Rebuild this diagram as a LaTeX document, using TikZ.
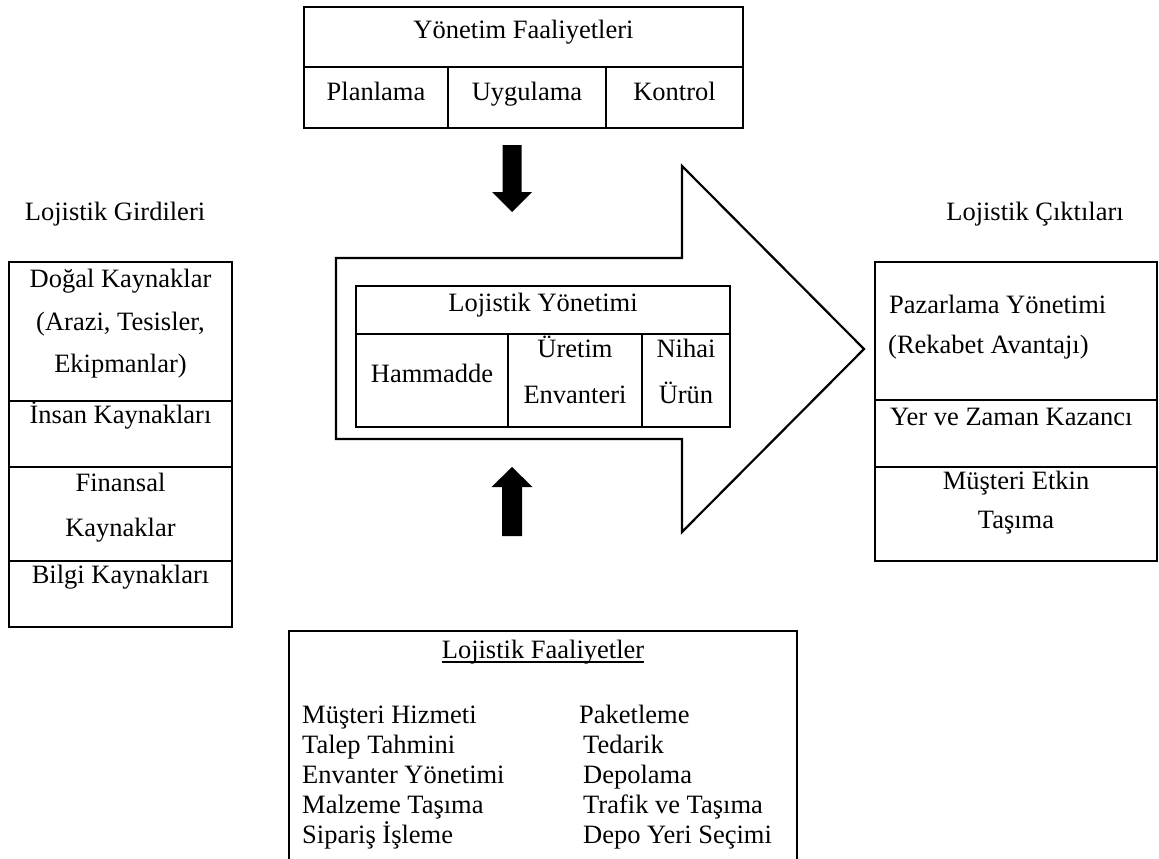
\documentclass[tikz,border=0pt]{standalone}
\usepackage{fontspec}
\setmainfont{Liberation Serif}
\begin{document}
\begin{tikzpicture}[x=1pt,y=-1pt,
  cell/.style={draw,line width=2.2pt,inner sep=0pt,outer sep=0pt,anchor=north west},
  outline/.style={draw,line width=2.2pt,line join=miter},
  solidarrow/.style={fill=black,draw=none},
  txt/.style={anchor=base,inner sep=0pt,font=\fontsize{26.5}{31.8}\selectfont},
  ltxt/.style={txt,anchor=base west}]
\useasboundingbox (0,0) rectangle (1159,859);

% ---- Yonetim Faaliyetleri (top table)
\node[cell,minimum width=439,minimum height=60] (yhead) at (304,7) {};
\node[cell,minimum width=144,minimum height=61] (yplan) at (304,67) {};
\node[cell,minimum width=158,minimum height=61] (yuyg) at (448,67) {};
\node[cell,minimum width=137,minimum height=61] (ykon) at (606,67) {};
\node[txt] (tyhead) at (523.5,39) {Yönetim Faaliyetleri};
\node[txt] (typlan) at (376,100) {Planlama};
\node[txt] (tyuyg) at (527,100) {Uygulama};
\node[txt] (tykon) at (674.5,100) {Kontrol};

% ---- small filled arrows
\fill[solidarrow] (502.5,145) -- (521.5,145) -- (521.5,192) -- (532,192) -- (512,212)
  -- (492,192) -- (502.5,192) -- cycle;
\fill[solidarrow] (512,467) -- (532.5,487) -- (522,487) -- (522,536) -- (502,536)
  -- (502,487) -- (491.5,487) -- cycle;

% ---- big flow arrow
\draw[outline] (336,258) -- (682,258) -- (682,166) -- (864,349) -- (682,532)
  -- (682,439) -- (336,439) -- cycle;

% ---- Lojistik Yonetimi (inner table)
\node[cell,minimum width=374,minimum height=48] (lhead) at (356,286) {};
\node[cell,minimum width=152,minimum height=93] (lham) at (356,334) {};
\node[cell,minimum width=134,minimum height=93] (lure) at (508,334) {};
\node[cell,minimum width=88,minimum height=93] (lnih) at (642,334) {};
\node[txt] (tlhead) at (543,311) {Lojistik Yönetimi};
\node[txt] (tlham) at (432,382) {Hammadde};
\node[txt] (tlure1) at (575,357) {Üretim};
\node[txt] (tlure2) at (575,403) {Envanteri};
\node[txt] (tlnih1) at (686,357) {Nihai};
\node[txt] (tlnih2) at (686,403) {Ürün};

% ---- side headings
\node[txt] (girdi) at (115,220) {Lojistik Girdileri};
\node[txt] (cikti) at (1035,220) {Lojistik Çıktıları};

% ---- inputs column
\node[cell,minimum width=223,minimum height=139] (gdogal) at (9,262) {};
\node[cell,minimum width=223,minimum height=66] (ginsan) at (9,401) {};
\node[cell,minimum width=223,minimum height=94] (gfin) at (9,467) {};
\node[cell,minimum width=223,minimum height=66] (gbilgi) at (9,561) {};
\node[txt] (tg1) at (120.5,287) {Doğal Kaynaklar};
\node[txt] (tg2) at (120.5,330) {(Arazi, Tesisler,};
\node[txt] (tg3) at (120.5,372) {Ekipmanlar)};
\node[txt] (tg4) at (120.5,423) {İnsan Kaynakları};
\node[txt] (tg5) at (120.5,491) {Finansal};
\node[txt] (tg6) at (120.5,536) {Kaynaklar};
\node[txt] (tg7) at (120.5,583) {Bilgi Kaynakları};

% ---- outputs column
\node[cell,minimum width=282,minimum height=138] (cpaz) at (875,262) {};
\node[cell,minimum width=282,minimum height=67] (cyer) at (875,400) {};
\node[cell,minimum width=282,minimum height=94] (cmus) at (875,467) {};
\node[ltxt] (tc1) at (889,313) {Pazarlama Yönetimi};
\node[ltxt] (tc2) at (888,353) {(Rekabet Avantajı)};
\node[ltxt] (tc3) at (890,425) {Yer ve Zaman Kazancı};
\node[txt] (tc4) at (1016,489) {Müşteri Etkin};
\node[txt] (tc5) at (1016,528) {Taşıma};

% ---- Lojistik Faaliyetler (open at the bottom)
\draw[line width=2.2pt,line join=miter] (289,859) -- (289,631) -- (797,631) -- (797,859);
\node[txt] (tfhead) at (543,658) {Lojistik Faaliyetler};
\draw[line width=1.3pt] ([yshift=-4pt]tfhead.base west) -- ([yshift=-4pt]tfhead.base east);
\node[ltxt] (fa1) at (302,723) {Müşteri Hizmeti};
\node[ltxt] (fa2) at (302,753) {Talep Tahmini};
\node[ltxt] (fa3) at (302,783) {Envanter Yönetimi};
\node[ltxt] (fa4) at (302,813) {Malzeme Taşıma};
\node[ltxt] (fa5) at (302,843) {Sipariş İşleme};
\node[ltxt] (fb1) at (579,723) {Paketleme};
\node[ltxt] (fb2) at (583,753) {Tedarik};
\node[ltxt] (fb3) at (583,783) {Depolama};
\node[ltxt] (fb4) at (583,813) {Trafik ve Taşıma};
\node[ltxt] (fb5) at (583,843) {Depo Yeri Seçimi};
\end{tikzpicture}
\end{document}
